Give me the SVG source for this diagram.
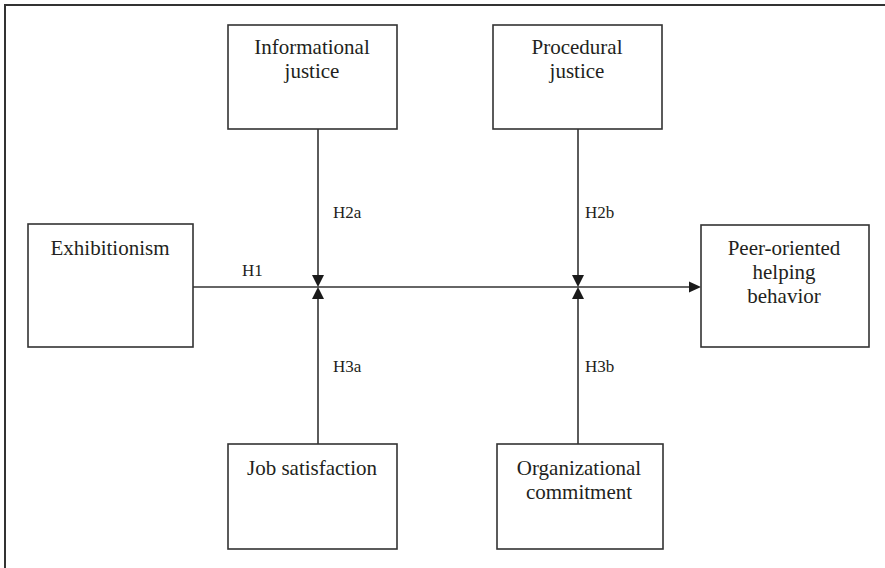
<svg xmlns="http://www.w3.org/2000/svg" width="885" height="568" viewBox="0 0 885 568">
<style>
.box{fill:#fff;stroke:#333;stroke-width:1.6}
.t{font-family:"Times New Roman","Liberation Serif",Tinos,serif;font-size:21px;fill:#231f20;text-anchor:middle}
.lb{font-family:"Times New Roman","Liberation Serif",Tinos,serif;font-size:17px;fill:#231f20}
.ln{stroke:#333;stroke-width:1.6;fill:none}
.ah{fill:#1a1a1a}
</style>
<rect width="885" height="568" fill="#fff"/>
<g id="frame"><path d="M5,568 V5 H885" fill="none" stroke="#333" stroke-width="2"/></g>
<g id="connectors">
<line class="ln" x1="193" y1="287" x2="690" y2="287"/>
<polygon class="ah" points="701,287 689,281.5 689,292.5"/>
<line class="ln" x1="318" y1="129" x2="318" y2="276"/>
<polygon class="ah" points="318,287 312,275 324,275"/>
<line class="ln" x1="318" y1="444" x2="318" y2="298"/>
<polygon class="ah" points="318,287 312,299 324,299"/>
<line class="ln" x1="578" y1="129" x2="578" y2="276"/>
<polygon class="ah" points="578,287 572,275 584,275"/>
<line class="ln" x1="578" y1="444" x2="578" y2="298"/>
<polygon class="ah" points="578,287 572,299 584,299"/>
<text class="lb" x="242" y="276">H1</text>
<text class="lb" x="333" y="218">H2a</text>
<text class="lb" x="585" y="218">H2b</text>
<text class="lb" x="333" y="372">H3a</text>
<text class="lb" x="585" y="372">H3b</text>
</g>
<g id="informational">
<rect class="box" x="228" y="25" width="169" height="104"/>
<text class="t" x="312" y="54">Informational</text>
<text class="t" x="312" y="78">justice</text>
</g>
<g id="procedural">
<rect class="box" x="493" y="25" width="169" height="104"/>
<text class="t" x="577" y="54">Procedural</text>
<text class="t" x="577" y="78">justice</text>
</g>
<g id="exhibitionism">
<rect class="box" x="28" y="224" width="165" height="123"/>
<text class="t" x="110" y="255">Exhibitionism</text>
</g>
<g id="peer">
<rect class="box" x="701" y="225" width="168" height="122"/>
<text class="t" x="784" y="255">Peer-oriented</text>
<text class="t" x="784" y="279">helping</text>
<text class="t" x="784" y="303">behavior</text>
</g>
<g id="job">
<rect class="box" x="228" y="444" width="169" height="105"/>
<text class="t" x="312" y="475">Job satisfaction</text>
</g>
<g id="organizational">
<rect class="box" x="497" y="444" width="166" height="105"/>
<text class="t" x="579" y="475">Organizational</text>
<text class="t" x="579" y="499">commitment</text>
</g>
</svg>
